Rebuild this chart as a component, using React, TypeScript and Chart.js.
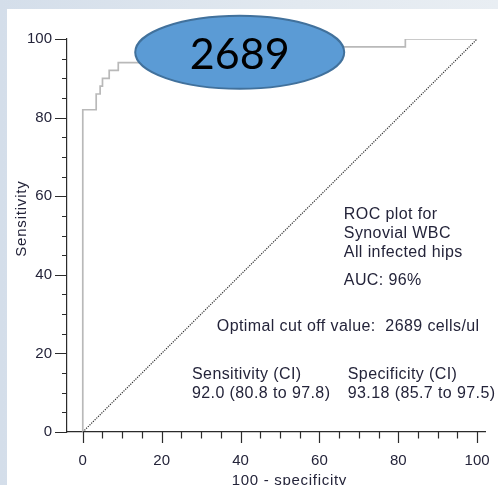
import { useEffect, useRef } from 'react';
import { Chart, registerables } from 'chart.js';

Chart.register(...registerables);

// ROC curve: 100 - specificity (x) against sensitivity (y), step corners
const rocFalsePositive = [0, 0, 3.4, 3.4, 4.4, 4.4, 5.0, 5.0, 6.7, 6.7, 9.0, 9.0, 25, 25, 50, 50, 81.8, 81.8, 100];
const rocSensitivity = [0, 82, 82, 86, 86, 88, 88, 90, 90, 92, 92, 94, 94, 96, 96, 98, 98, 100, 100];

// line of no discrimination
const chanceX = [0, 100];
const chanceY = [0, 100];

const xTickValues = [0, 20, 40, 60, 80, 100];
const yTickValues = [0, 20, 40, 60, 80, 100];
const minorTickValues = [0, 5, 10, 15, 20, 25, 30, 35, 40, 45, 50, 55, 60, 65, 70, 75, 80, 85, 90, 95, 100];

const xTitle = '100 - specificity';
const yTitle = 'Sensitivity';
const calloutLabel = '2689';
const plotInfo = ['ROC plot for', 'Synovial WBC', 'All infected hips'];
const aucLabel = 'AUC: 96%';
const cutoffLabel = 'Optimal cut off value:  2689 cells/ul';
const sensHeader = 'Sensitivity (CI)';
const sensValue = '92.0 (80.8 to 97.8)';
const specHeader = 'Specificity (CI)';
const specValue = '93.18 (85.7 to 97.5)';

const AXIS = '#2b2b2b';
const TEXT = '#24243a';
const FONT = '"Liberation Sans", Arial, sans-serif';

const overlay = {
  id: 'rocOverlay',
  afterDraw(chart: any) {
    const { ctx } = chart;
    const x = chart.scales.x;
    const y = chart.scales.y;
    const px = (v: number) => x.getPixelForValue(v);
    const py = (v: number) => y.getPixelForValue(v);

    ctx.save();
    // major / minor tick marks on both axes
    ctx.strokeStyle = AXIS;
    ctx.lineWidth = 1.2;
    ctx.beginPath();
    minorTickValues.forEach((v) => {
      const major = v % 20 === 0;
      const tx = Math.round(px(v)) + 0.5;
      ctx.moveTo(tx, y.bottom);
      ctx.lineTo(tx, y.bottom + (major ? 11 : 6.5));
      const ty = Math.round(py(v)) + 0.5;
      ctx.moveTo(x.left, ty);
      ctx.lineTo(x.left - (major ? 12 : 5), ty);
    });
    ctx.stroke();

    // axis titles
    ctx.fillStyle = TEXT;
    ctx.font = `15px ${FONT}`;
    ctx.letterSpacing = '0.7px';
    ctx.textAlign = 'center';
    ctx.textBaseline = 'alphabetic';
    ctx.fillText(xTitle, px(52.4), y.bottom + 52.5);
    ctx.save();
    ctx.translate(26, py(54.3));
    ctx.rotate(-Math.PI / 2);
    ctx.letterSpacing = '0.8px';
    ctx.fillText(yTitle, 0, 0);
    ctx.restore();

    // statistics text block
    ctx.font = `16px ${FONT}`;
    ctx.letterSpacing = '0.4px';
    ctx.textAlign = 'left';
    const infoBase = [54.3, 49.3, 44.6];
    plotInfo.forEach((line, i) => ctx.fillText(line, px(66.2), py(infoBase[i])));
    ctx.fillText(aucLabel, px(66.2), py(37.4));
    ctx.fillText(cutoffLabel, px(34.0), py(25.8));
    ctx.fillText(sensHeader, px(27.7), py(13.5));
    ctx.fillText(sensValue, px(27.7), py(8.65));
    ctx.fillText(specHeader, px(67.2), py(13.5));
    ctx.fillText(specValue, px(67.2), py(8.65));

    // callout ellipse with the cut-off value
    const cx = px(39.8);
    const cy = py(96.6);
    ctx.beginPath();
    ctx.ellipse(cx, cy, 104.5, 36.5, 0, 0, Math.PI * 2);
    ctx.fillStyle = '#5b9bd5';
    ctx.fill();
    ctx.lineWidth = 2;
    ctx.strokeStyle = '#41719c';
    ctx.stroke();
    ctx.fillStyle = '#000';
    ctx.font = `43px Lato, "Open Sans", sans-serif`;
    ctx.letterSpacing = '0px';
    ctx.textAlign = 'center';
    ctx.fillText(calloutLabel, cx, cy + 17);
    ctx.restore();
  },
};

export default function App() {
  const canvasRef = useRef<HTMLCanvasElement | null>(null);

  useEffect(() => {
    if (!canvasRef.current) return;
    const tickFont = { family: FONT, size: 15 };
    const chart = new Chart(canvasRef.current, {
      type: 'scatter',
      data: {
        datasets: [
          {
            data: chanceX.map((v, i) => ({ x: v, y: chanceY[i] })),
            showLine: true,
            borderColor: '#333333',
            borderWidth: 1.2,
            borderDash: [1.2, 1.2],
            pointRadius: 0,
            fill: false,
          },
          {
            data: rocFalsePositive.map((v, i) => ({ x: v, y: rocSensitivity[i] })),
            showLine: true,
            borderColor: '#b9b9b9',
            borderWidth: 1.7,
            pointRadius: 0,
            fill: false,
            tension: 0,
          },
        ],
      },
      options: {
        responsive: false,
        animation: false,
        devicePixelRatio: 1,
        layout: { padding: { top: 39, right: 13, left: 0, bottom: 0 } },
        plugins: { legend: { display: false }, tooltip: { enabled: false } },
        scales: {
          x: {
            type: 'linear',
            min: -4,
            max: 102,
            // tick marks are drawn by the overlay; tickLength only spaces the labels
            grid: { display: false, drawTicks: true, tickLength: 20 },
            border: { display: true, color: AXIS, width: 1.2 },
            ticks: { padding: 0, font: tickFont, color: TEXT, autoSkip: false, maxRotation: 0 },
            afterBuildTicks: (s: any) => {
              s.ticks = xTickValues.map((value) => ({ value }));
            },
            afterFit: (s: any) => {
              s.height = 53;
            },
          },
          y: {
            type: 'linear',
            min: 0,
            max: 100,
            grid: { display: false, drawTicks: true, tickLength: 15 },
            border: { display: true, color: AXIS, width: 1.2 },
            ticks: { padding: 0, font: tickFont, color: TEXT, autoSkip: false },
            afterBuildTicks: (s: any) => {
              s.ticks = yTickValues.map((value) => ({ value }));
            },
            afterFit: (s: any) => {
              s.width = 67;
            },
          },
        },
      },
      plugins: [overlay],
    });
    return () => chart.destroy();
  }, []);

  return (
    <div
      style={{
        position: 'absolute',
        left: 0,
        top: 0,
        width: 498,
        height: 485,
        overflow: 'hidden',
        background: 'linear-gradient(90deg, #d4deea 0%, #e2e9f0 60%, #e9eef3 100%)',
      }}
    >
      <div style={{ position: 'absolute', left: 7, top: 9, right: 0, bottom: 0, background: '#fff' }} />
      <canvas
        ref={canvasRef}
        width={498}
        height={485}
        style={{ position: 'absolute', left: 0, top: 0, display: 'block' }}
      />
    </div>
  );
}
